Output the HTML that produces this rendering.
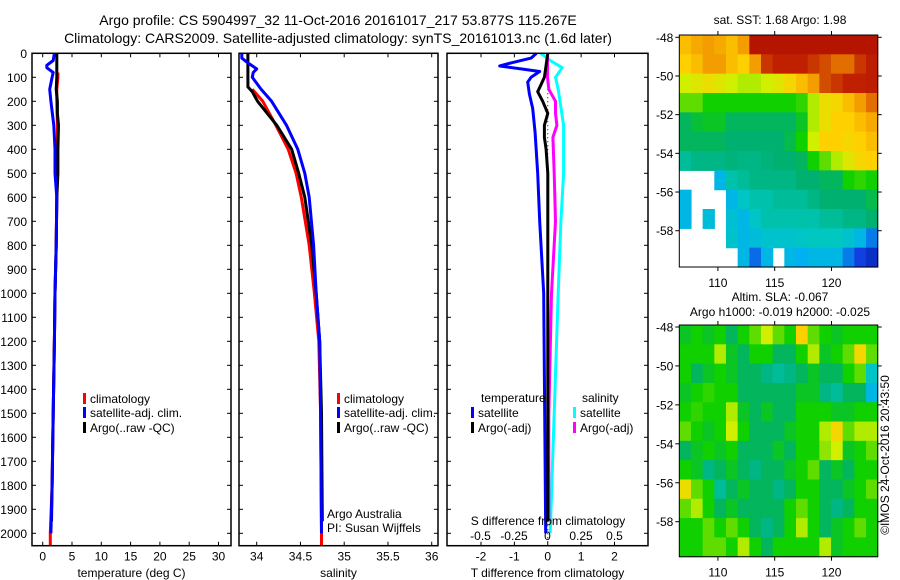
<!DOCTYPE html>
<html><head><meta charset="utf-8">
<style>
html,body{margin:0;padding:0;background:#fff;}
svg{display:block;font-family:"Liberation Sans",sans-serif;}
</style></head>
<body>
<svg id="fig" width="900" height="580" viewBox="0 0 900 580" xmlns="http://www.w3.org/2000/svg">
<text x="338" y="25" font-size="14" text-anchor="middle">Argo profile: CS 5904997_32 11-Oct-2016 20161017_217 53.877S 115.267E</text>
<text x="338" y="43" font-size="14" text-anchor="middle">Climatology: CARS2009. Satellite-adjusted climatology: synTS_20161013.nc (1.6d later)</text>
<g id="g1"></g>
<g id="g2"></g>
<g id="g3"></g>
<g id="m1"></g>
<g id="m2"></g>
<text x="780" y="24" font-size="12" text-anchor="middle">sat. SST: 1.68 Argo: 1.98</text>
<text x="780" y="301" font-size="12" text-anchor="middle">Altim. SLA: -0.067</text>
<text x="780" y="316" font-size="12" text-anchor="middle">Argo h1000: -0.019 h2000: -0.025</text>
<text transform="translate(889,455) rotate(-90)" font-size="12" text-anchor="middle">©IMOS 24-Oct-2016 20:43:50</text>
</svg>
<script>
// ---------- data ----------
const depthTicks=[0,100,200,300,400,500,600,700,800,900,1000,1100,1200,1300,1400,1500,1600,1700,1800,1900,2000];
const tempTicks=[0,5,10,15,20,25,30];
const salTicks=[34,34.5,35,35.5,36];
const salTickLabels=["34","34.5","35","35.5","36"];
const tdiffTicks=[-2,-1,0,1,2];
const sdiffTicks=[-0.5,-0.25,0,0.25,0.5];
const sdiffTickLabels=["-0.5","-0.25","0","0.25","0.5"];

const climTDepth=[80,100,150,200,300,400,500,600,800,1000,1200,1500,1800,2000,2050];
const climTVal=[2.6,2.6,2.4,2.4,2.5,2.5,2.5,2.4,2.3,2.1,2.0,1.8,1.6,1.3,1.3];
const satTDepth=[0,30,50,60,80,100,150,200,300,400,500,600,800,1000,1200,1500,1800,2000];
const satTVal=[2.0,1.8,0.7,0.7,1.8,1.6,1.2,1.4,1.9,2.1,2.1,2.4,2.3,2.1,2.0,1.8,1.6,1.4];
const argoTDepth=[0,50,100,150,200,250,300,400,500,600,800,1000,1200,1500,1800,1950];
const argoTVal=[2.4,2.4,2.4,2.3,2.5,2.5,2.7,2.6,2.6,2.4,2.3,2.1,2.0,1.8,1.6,1.5];

const climSDepth=[150,200,300,400,500,600,800,1000,1200,1500,2000,2050];
const climSVal=[33.95,34.07,34.22,34.36,34.45,34.51,34.6,34.66,34.71,34.73,34.74,34.74];
const satSDepth=[0,20,40,65,80,100,150,200,300,400,500,600,800,1000,1200,1500,2000];
const satSVal=[33.83,33.83,33.9,34.0,33.96,33.95,34.05,34.17,34.34,34.47,34.55,34.6,34.65,34.68,34.72,34.73,34.74];
const argoSDepth=[0,100,140,160,180,200,250,300,400,500,600,800,1000,1200,1500,1950];
const argoSVal=[33.9,33.9,33.9,33.95,33.98,34.01,34.12,34.23,34.4,34.48,34.55,34.63,34.68,34.72,34.74,34.75];

const satTdDepth=[0,20,40,53,65,76,100,120,170,230,330,500,700,1000,1500,2000];
const satTdVal=[-0.34,-0.5,-1.1,-1.44,-0.8,-0.24,-0.5,-0.6,-0.55,-0.45,-0.38,-0.3,-0.24,-0.12,-0.09,-0.06];
const argoTdDepth=[0,50,100,130,160,200,250,300,350,400,500,700,1000,1500,1950];
const argoTdVal=[0,-0.05,-0.1,-0.2,-0.3,-0.15,0,-0.1,-0.1,-0.05,0,0,0,0,0];
const satSdDepth=[0,30,60,100,150,300,500,700,1000,1500,2000];
const satSdVal=[-0.05,0.02,0.11,0.06,0.08,0.12,0.12,0.1,0.08,0.05,0.02];
const argoSdDepth=[0,100,150,200,250,300,350,500,700,1000,1500,1950];
const argoSdVal=[0,0,0.01,0.06,0.06,0.07,0.04,0.05,0.06,0.03,0.01,0.01];

const latTicks=[-48,-50,-52,-54,-56,-58];
const lonTicks=[110,115,120];
const sstGrid=[
[.75,.78,.8,.78,.75,.8,.95,.95,.95,.95,.95,.95,.95,.95,.95,.95,.95],
[.72,.75,.8,.8,.75,.72,.8,.9,.92,.92,.92,.9,.88,.85,.85,.9,.93],
[.62,.65,.68,.65,.62,.6,.6,.62,.65,.7,.75,.8,.88,.9,.92,.92,.93],
[.55,.55,.5,.5,.5,.5,.5,.5,.5,.5,.52,.6,.68,.7,.75,.8,.85],
[.45,.47,.48,.48,.45,.45,.45,.45,.45,.45,.48,.6,.68,.72,.72,.75,.78],
[.45,.45,.45,.45,.44,.44,.44,.44,.44,.46,.5,.62,.72,.72,.7,.72,.75],
[.4,.42,.42,.42,.43,.42,.42,.43,.44,.44,.45,.5,.55,.6,.65,.7,.72],
[-1,-1,-1,.3,.38,.4,.42,.42,.42,.42,.44,.44,.45,.45,.5,.52,.5],
[.3,-1,-1,-1,.3,.35,.38,.38,.4,.4,.4,.42,.44,.44,.44,.44,.46],
[.3,-1,.32,-1,.33,.3,.35,.38,.38,.38,.38,.38,.4,.4,.42,.42,.44],
[-1,-1,-1,-1,.34,.3,.32,.34,.34,.34,.35,.36,.36,.36,.34,.3,.22],
[-1,-1,-1,-1,-1,.3,.2,.3,-1,.3,.28,.3,.3,.3,.22,.15,.1]];
const slaGrid=[
[.48,.5,.48,.5,.45,.5,.55,.62,.55,.5,.72,.55,.5,.48,.5,.5,.5],
[.5,.5,.5,.6,.48,.45,.5,.5,.45,.45,.5,.6,.48,.5,.55,.7,.55],
[.5,.45,.48,.5,.48,.45,.45,.42,.4,.42,.45,.48,.45,.45,.5,.55,.35],
[.48,.5,.52,.5,.5,.45,.45,.45,.45,.45,.48,.48,.42,.4,.45,.45,.3],
[.5,.52,.5,.5,.6,.48,.45,.48,.45,.45,.5,.5,.5,.48,.48,.5,.5],
[.55,.5,.48,.5,.62,.5,.45,.45,.45,.48,.5,.5,.6,.7,.55,.6,.6],
[.45,.48,.5,.48,.5,.45,.45,.45,.48,.45,.5,.5,.58,.62,.48,.5,.55],
[.5,.48,.42,.45,.48,.45,.42,.45,.45,.48,.5,.55,.45,.48,.45,.5,.5],
[.68,.55,.5,.4,.45,.48,.45,.45,.42,.45,.5,.5,.45,.45,.48,.5,.55],
[.55,.6,.5,.45,.48,.45,.45,.45,.45,.5,.55,.5,.45,.42,.45,.5,.5],
[.5,.5,.55,.5,.55,.5,.45,.42,.45,.5,.6,.5,.45,.48,.5,.55,.5],
[.5,.5,.55,.55,.5,.6,.5,.45,.5,.5,.5,.5,.6,.48,.5,.5,.5]];

// ---------- helpers ----------
const NS="http://www.w3.org/2000/svg";
const FS=12;
function mk(parent,tag,attrs,text){const e=document.createElementNS(NS,tag);for(const k in attrs)e.setAttribute(k,attrs[k]);if(text!==undefined)e.textContent=text;parent.appendChild(e);return e;}
const TOP=53.3, BOT=545.7;
const yD=d=>TOP+d*0.24;
function lin(d0,d1,r0,r1){return v=>r0+(v-d0)*(r1-r0)/(d1-d0);}

function panel(g,x0,x1,xs,ticks,labels,xlabel,leftLabels){
  const f=mk(g,'rect',{x:x0,y:TOP,width:x1-x0,height:BOT-TOP,fill:'none',stroke:'#000','stroke-width':1.5});
  
  
  ticks.forEach((t,i)=>{const x=xs(t);
    mk(g,'line',{x1:x,x2:x,y1:BOT,y2:BOT-4,stroke:'#000'});
    mk(g,'line',{x1:x,x2:x,y1:TOP,y2:TOP+4,stroke:'#000'});
    const tl=mk(g,'text',{x:x,y:BOT+15,'font-size':FS,'text-anchor':'middle'},labels?labels[i]:String(t));
    
    
  });
  depthTicks.forEach(d=>{const y=yD(d);
    mk(g,'line',{x1:x0,x2:x0+4,y1:y,y2:y,stroke:'#000'});
    mk(g,'line',{x1:x1,x2:x1-4,y1:y,y2:y,stroke:'#000'});
    if(leftLabels){const tl=mk(g,'text',{x:x0-5,y:y+4.5,'font-size':FS,'text-anchor':'end'},String(d));
      
      }
  });
  if(xlabel){const t=mk(g,'text',{x:(x0+x1)/2,y:577,'font-size':FS,'text-anchor':'middle'},xlabel);
    
    }
}
function line(g,xs,depths,vals,color,name){
  const pts=depths.map((d,i)=>xs(vals[i]).toFixed(1)+','+yD(d).toFixed(1)).join(' ');
  const p=mk(g,'polyline',{points:pts,fill:'none',stroke:color,'stroke-width':3,'stroke-linejoin':'round'});
  
  
}
function legend(g,x,y,color,label){
  const r=mk(g,'rect',{x:x,y:y-9,width:3,height:11,fill:color});
  
  
  const t=mk(g,'text',{x:x+7,y:y+1,'font-size':FS},label);
  
  
}

// ---------- panel 1 ----------
const g1=document.getElementById('g1');
const xT=lin(0,30,42.7,218.5);
line(g1,xT,climTDepth,climTVal,'#f00','climatology-temp-line');
line(g1,xT,argoTDepth,argoTVal,'#000','argo-temp-line');
line(g1,xT,satTDepth,satTVal,'#00f','satellite-temp-line');
panel(g1,32,231,xT,tempTicks,null,'temperature (deg C)',true);
legend(g1,83,402,'#f00','climatology');
legend(g1,83,416,'#00f','satellite-adj. clim.');
legend(g1,83,431,'#000','Argo(..raw -QC)');

// ---------- panel 2 ----------
const g2=document.getElementById('g2');
const xS=lin(34,36,256.7,431.7);
line(g2,xS,climSDepth,climSVal,'#f00','climatology-salinity-line');
line(g2,xS,argoSDepth,argoSVal,'#000','argo-salinity-line');
line(g2,xS,satSDepth,satSVal,'#00f','satellite-salinity-line');
panel(g2,239,438,xS,salTicks,salTickLabels,'salinity',false);
legend(g2,337,402,'#f00','climatology');
legend(g2,337,416,'#00f','satellite-adj. clim.');
legend(g2,337,431,'#000','Argo(..raw -QC)');
mk(g2,'text',{x:327,y:518,'font-size':FS},'Argo Australia');
mk(g2,'text',{x:327,y:532,'font-size':FS},'PI: Susan Wijffels');

// ---------- panel 3 ----------
const g3=document.getElementById('g3');
const xTd=lin(-2,2,481,614.5);
const xSd=lin(-0.5,0.5,480.5,614.5);
mk(g3,'line',{x1:xTd(0),x2:xTd(0),y1:TOP,y2:BOT,stroke:'#000','stroke-dasharray':'1,3'});
line(g3,xTd,satTdDepth,satTdVal,'#00f','satellite-tdiff-line');
line(g3,xSd,satSdDepth,satSdVal,'#0ff','satellite-sdiff-line');
line(g3,xSd,argoSdDepth,argoSdVal,'#f0f','argo-sdiff-line');
line(g3,xTd,argoTdDepth,argoTdVal,'#000','argo-tdiff-line');
panel(g3,447,648,xTd,tdiffTicks,null,'T difference from climatology',false);
mk(g3,'text',{x:481,y:402,'font-size':FS},'temperature');
mk(g3,'text',{x:582,y:402,'font-size':FS},'salinity');
legend(g3,471,416,'#00f','satellite');
legend(g3,471,431,'#000','Argo(-adj)');
legend(g3,573,416,'#0ff','satellite');
legend(g3,573,431,'#f0f','Argo(-adj)');
mk(g3,'text',{x:548,y:525,'font-size':FS,'text-anchor':'middle'},'S difference from climatology');
sdiffTicks.forEach((t,i)=>{const tl=mk(g3,'text',{x:xSd(t),y:540,'font-size':FS,'text-anchor':'middle'},sdiffTickLabels[i]);
  
  });

// ---------- maps ----------
const stops=[[0,[0,16,143]],[0.15,[16,64,224]],[0.28,[0,176,240]],[0.36,[0,200,192]],[0.44,[0,176,112]],[0.5,[16,208,0]],[0.62,[208,240,0]],[0.72,[255,208,0]],[0.82,[240,144,0]],[0.92,[192,32,0]],[1,[160,0,0]]];
function cmap(v){for(let i=1;i<stops.length;i++){if(v<=stops[i][0]){const a=stops[i-1],b=stops[i],t=(v-a[0])/(b[0]-a[0]);
  return 'rgb('+a[1].map((c,k)=>Math.round(c+(b[1][k]-c)*t)).join(',')+')';}}return 'rgb(160,0,0)';}
function drawMap(g,grid,x0,x1,y0,y1,lat48y,lat58y){
  const lonMin=106.6,lonMax=124.07;
  const xL=lin(lonMin,lonMax,x0,x1);
  const yL=lin(-48,-58,lat48y,lat58y);
  const latTop=-48+(y0-lat48y)/(lat58y-lat48y)*-10;
  const latBot=-48+(y1-lat48y)/(lat58y-lat48y)*-10;
  const nr=grid.length,nc=grid[0].length;
  const dLon=(lonMax-lonMin)/nc,dLat=(latTop-latBot)/nr;
  grid.forEach((row,r)=>row.forEach((v,c)=>{
    if(v<0)return;
    const xa=xL(lonMin+c*dLon),xb=xL(lonMin+(c+1)*dLon);
    const ya=yL(latTop-r*dLat),yb=yL(latTop-(r+1)*dLat);
    const cell=mk(g,'rect',{x:xa.toFixed(2),y:ya.toFixed(2),width:(xb-xa+0.6).toFixed(2),height:(yb-ya+0.6).toFixed(2),fill:cmap(v)});
    
    
  }));
  mk(g,'rect',{x:x0,y:y0,width:x1-x0,height:y1-y0,fill:'none',stroke:'#000','stroke-width':1});
  latTicks.forEach(l=>{const y=yL(l);
    mk(g,'line',{x1:x0-4,x2:x0,y1:y,y2:y,stroke:'#000'});
    mk(g,'line',{x1:x1,x2:x1+4,y1:y,y2:y,stroke:'#000'});
    const t=mk(g,'text',{x:x0-6,y:y+4.5,'font-size':FS,'text-anchor':'end'},String(l));
    
    });
  lonTicks.forEach(l=>{const x=xL(l);
    mk(g,'line',{x1:x,x2:x,y1:y1,y2:y1+4,stroke:'#000'});
    mk(g,'line',{x1:x,x2:x,y1:y0,y2:y0-4,stroke:'#000'});
    const t=mk(g,'text',{x:x,y:y1+20,'font-size':FS,'text-anchor':'middle'},String(l));
    
    });
}
drawMap(document.getElementById('m1'),sstGrid,679.3,877.7,35,267,37.3,230.7);
drawMap(document.getElementById('m2'),slaGrid,679.3,877.7,325,556.7,327,521.7);
</script>
</body></html>
